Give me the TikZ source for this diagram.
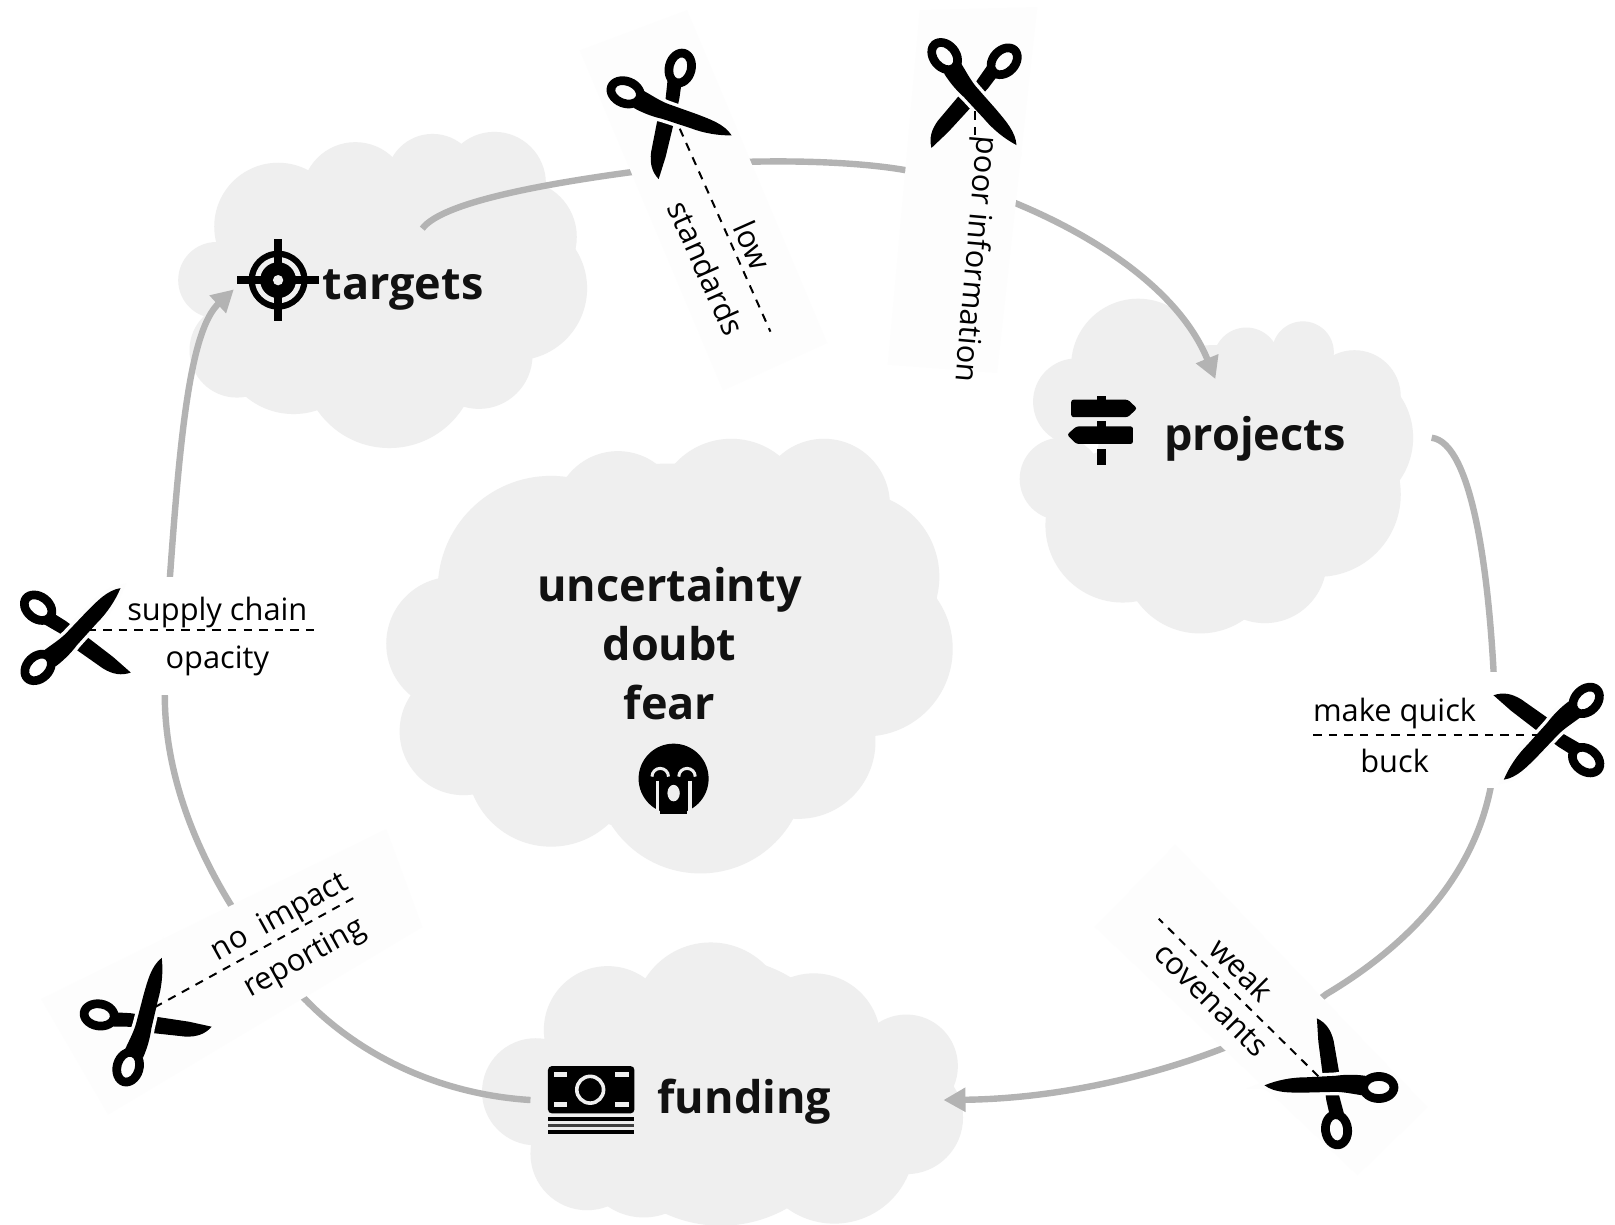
\documentclass[tikz,border=0pt]{standalone}
\usepackage{fontspec}
\setmainfont{Open Sans}
\usetikzlibrary{arrows.meta}
\definecolor{cloudfill}{HTML}{EFEFEF}
\definecolor{flowgray}{HTML}{B3B3B3}
\definecolor{patchfill}{HTML}{FDFDFD}
\definecolor{inktext}{HTML}{111111}
\newcommand{\blob}[1]{\foreach \cx/\cy/\cr in {#1}{\fill[cloudfill] (\cx,\cy) circle[radius=\cr];}}
\tikzset{
  flow/.style={draw=flowgray,line width=3.2pt,line cap=butt},
  flowarrow/.style={flow,-{Triangle[length=11pt,width=11.5pt]}},
  patch/.style={fill=patchfill,draw=none},
  cutline/.style={draw=black,line width=1pt,dash pattern=on 4.2pt off 3.6pt},
  bigtext/.style={font=\fontsize{22.5}{27}\selectfont\bfseries,text=inktext,inner sep=0pt},
  smalltext/.style={font=\fontsize{15.4}{18}\selectfont,text=black,inner sep=0pt},
  scissors/.pic={
    % rear blade with its handle
    \fill[black] (55,36) -- (38,21) -- (12,1) -- (-8,-14) -- (-24,-24) -- (-31,-12) -- (-12,-1) -- (1,13) -- (28,32)
       .. controls (38,38) and (46,39) .. cycle;
    \fill[black,even odd rule] (-35,-27) circle[x radius=19,y radius=15,rotate=-38]
       (-35,-27) circle[x radius=10.5,y radius=6.5,rotate=-38];
    % front blade with its handle
    \fill[black,preaction={draw=patchfill,line width=3.4pt}] (45,-46)
       .. controls (32,-44) and (22,-33) .. (12,-23) -- (-8,-2)
       .. controls (-14,4) and (-22,9) .. (-30,15) -- (-18,30)
       .. controls (-10,24) and (-3,17) .. (3,9) -- (22,-12)
       .. controls (32,-22) and (40,-34) .. cycle;
    \fill[black,even odd rule] (-35,31) circle[x radius=19,y radius=15,rotate=45]
       (-35,31) circle[x radius=10.5,y radius=6.5,rotate=45];
  }
}
\begin{document}
\begin{tikzpicture}[x=0.515pt,y=-0.515pt]
\useasboundingbox (0,0) rectangle (1568,1189);
\fill[white] (0,0) rectangle (1568,1189);

% clouds
\blob{270/220/62,210/272/37,230/340/46,285/330/72,345/190/52,420/175/45,480/178/50,505/230/55,500/280/70,465/345/52,378/350/85,370/270/110}
\blob{1105/355/65,1045/390/42,1030/465/40,1090/510/75,1165/540/75,1228/545/60,1280/480/80,1300/425/72,1210/350/32,1265/342/30,1315/385/45,1180/450/115}
\blob{535/572/110,600/500/62,710/500/74,800/490/64,830/560/82,840/630/85,440/625/65,450/710/62,535/740/82,680/745/103,775/720/75,650/630/180}
\blob{590/1000/62,690/990/75,790/1010/65,880/1035/50,880/1085/55,810/1110/78,700/1110/80,520/1060/52,570/1120/55,625/1120/62,700/1060/130}

% connector end points
\coordinate (tOut) at (410,222);
\coordinate (pIn) at (1180,368);
\coordinate (pOut) at (1390,425);
\coordinate (fIn) at (916,1068);
\coordinate (fOut) at (515,1068);
\coordinate (tIn) at (227,281);

% connectors
\draw[flowarrow] (tOut) .. controls (430,195) and (540,175) .. (670,160)
   .. controls (730,155) and (820,155) .. (878,165)
   .. controls (960,178) and (1130,245) .. (pIn);
\draw[flowarrow] (pOut) .. controls (1430,430) and (1445,560) .. (1450,650)
   -- (1452,720) .. controls (1450,830) and (1380,910) .. (1288,965)
   .. controls (1230,1010) and (1083,1066) .. (fIn);
\draw[flowarrow] (fOut) .. controls (420,1062) and (345,1020) .. (298,972)
   .. controls (240,915) and (160,800) .. (160,675)
   .. controls (160,640) and (160,600) .. (165,560)
   .. controls (175,420) and (185,320) .. (tIn);

% label patches
\fill[patch] (563,49) -- (667,10) -- (803,333) -- (702,379) -- cycle;
\fill[patch] (893,10) -- (1007,7) -- (968,362) -- (862,354) -- cycle;
\fill[white] (15,560) rectangle (310,675);
\fill[white] (1272,652) rectangle (1564,765);
\fill[patch] (1141,820) -- (1386,1075) -- (1318,1141) -- (1063,900) -- cycle;
\fill[patch] (40,970) -- (375,805) -- (410,900) -- (105,1082) -- cycle;

% scissors
\pic[rotate=-66] (cutA) at (650,109) {scissors};
\pic[rotate=-95] (cutB) at (945,92) {scissors};
\pic[rotate=180] (cutC) at (1505,711) {scissors};
\pic[rotate=-225] (cutD) at (1292,1053) {scissors};
\pic[rotate=29] (cutE) at (140,992) {scissors};
\pic (cutF) at (72,617) {scissors};

% dashed cut lines
\coordinate (dA1) at (660,125); \coordinate (dA2) at (748,322);
\coordinate (dB1) at (947,108); \coordinate (dB2) at (947,135);
\coordinate (dC1) at (1275,714); \coordinate (dC2) at (1500,714);
\coordinate (dD1) at (1280,1045); \coordinate (dD2) at (1125,892);
\coordinate (dE1) at (150,978); \coordinate (dE2) at (343,872);
\coordinate (dF1) at (85,612); \coordinate (dF2) at (305,612);
\draw[cutline] (dA1) -- (dA2);
\draw[cutline] (dB1) -- (dB2);
\draw[cutline] (dC1) -- (dC2);
\draw[cutline] (dD1) -- (dD2);
\draw[cutline] (dE1) -- (dE2);
\draw[cutline] (dF1) -- (dF2);

% small labels
\node[smalltext,rotate=-66] (lowA) at (731,238) {low};
\node[smalltext,rotate=-66] (lowB) at (686,260) {standards};
\node[smalltext,rotate=-95] (poor) at (946,252) {poor information};
\node[smalltext] (quickA) at (1354,693) {make quick};
\node[smalltext] (quickB) at (1354,739) {buck};
\node[smalltext,rotate=-45] (weakA) at (1206,941) {weak};
\node[smalltext,rotate=-45] (weakB) at (1176,971) {covenants};
\node[smalltext,rotate=29] (impactA) at (272,891) {no\hspace{0.25em} impact};
\node[smalltext,rotate=29] (impactB) at (296,931) {reporting};
\node[smalltext] (supplyA) at (211,595) {supply chain};
\node[smalltext] (supplyB) at (211,642) {opacity};

% main labels
\node[bigtext,anchor=base west] (targets) at (313,291) {targets};
\node[bigtext,anchor=base west] (projects) at (1130,437) {projects};
\node[bigtext,anchor=base west] (funding) at (638,1081) {funding};
\node[bigtext,anchor=base] (unc) at (650,584) {uncertainty};
\node[bigtext,anchor=base] (doubt) at (650,641) {doubt};
\node[bigtext,anchor=base] (fear) at (650,699) {fear};

% target icon
\fill[black] (270,272) circle[radius=28.6];
\fill[cloudfill,even odd rule] (270,272) circle[radius=22.5] (270,272) circle[radius=17.5];
\fill[black] (230,268) rectangle (310,276);
\fill[black] (266,232) rectangle (274,312);
\fill[black] (270,272) circle[radius=13];
\fill[cloudfill] (270,272) circle[radius=5];

% signpost icon
\fill[black] (1065,384) rectangle (1074,392);
\fill[black,rounded corners=1.2pt] (1040,388) -- (1095,388) -- (1104,396.5) -- (1095,405) -- (1040,405) -- cycle;
\fill[black] (1065,409) rectangle (1074,416);
\fill[black,rounded corners=1.2pt] (1100,414) -- (1045,414) -- (1036,422) -- (1045,431) -- (1100,431) -- cycle;
\fill[black] (1065,436) rectangle (1074,451);

% crying face icon
\fill[black] (654,756) circle[radius=34];
\fill[black] (641,770) rectangle (667,790);
\draw[cloudfill,line width=1.5pt] (633,754) arc[start angle=180,end angle=360,radius=8];
\draw[cloudfill,line width=1.5pt] (659,754) arc[start angle=180,end angle=360,radius=8];
\draw[cloudfill,line width=1.6pt] (638.5,758) -- (638.5,788);
\draw[cloudfill,line width=1.6pt] (670,758) -- (670,788);
\fill[cloudfill] (654,770) circle[x radius=6,y radius=8];

% money icon
\fill[black,rounded corners=2pt] (532,1035) rectangle (616,1081);
\draw[cloudfill,line width=1.8pt] (573,1058) circle[radius=13];
\foreach \mx/\my in {544/1043,604/1043,544/1072,604/1072}{\fill[cloudfill] (\mx-6.5,\my-2.5) rectangle (\mx+6.5,\my+2.5);}
\fill[black] (532,1084.5) rectangle (616,1088.5);
\fill[black!75] (532,1091) rectangle (616,1094.5);
\fill[black] (532,1097) rectangle (616,1101);
\end{tikzpicture}
\end{document}
